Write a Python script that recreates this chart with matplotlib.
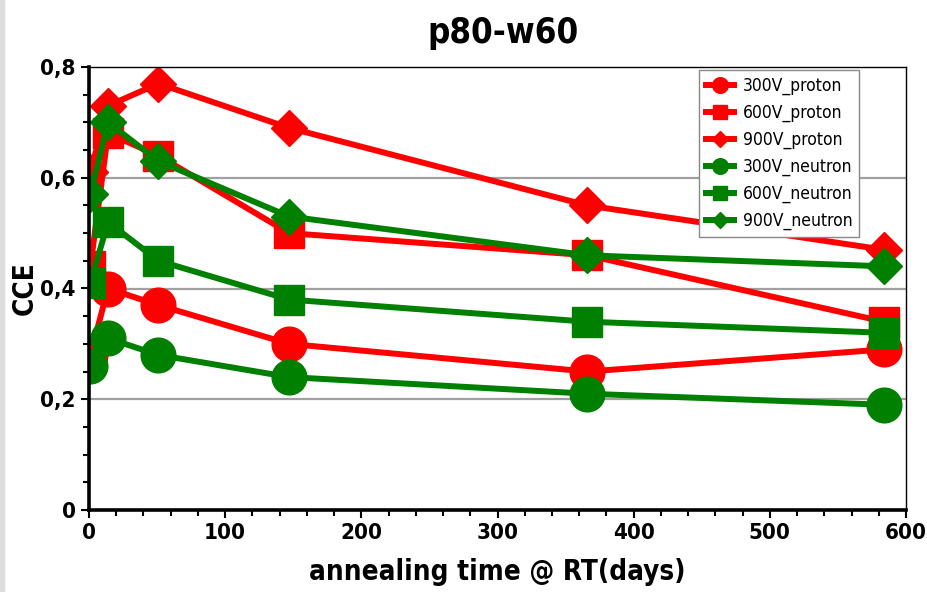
"""CCE vs annealing time for p80-w60, proton vs neutron irradiated."""

import matplotlib

matplotlib.use("Agg")
import matplotlib.pyplot as plt
from matplotlib.patches import Rectangle
from matplotlib.ticker import FuncFormatter, MultipleLocator

plt.rcParams["font.family"] = ["DejaVu Sans"]
plt.rcParams["font.stretch"] = "condensed"

days = [1, 14, 51, 147, 366, 584]

p300 = [0.28, 0.40, 0.37, 0.30, 0.25, 0.29]
p600 = [0.44, 0.68, 0.64, 0.50, 0.46, 0.34]
p900 = [0.61, 0.73, 0.77, 0.69, 0.55, 0.47]
n300 = [0.26, 0.31, 0.28, 0.24, 0.21, 0.19]
n600 = [0.41, 0.52, 0.45, 0.38, 0.34, 0.32]
n900 = [0.57, 0.70, 0.63, 0.53, 0.46, 0.44]

series = [
    ("300V_proton", p300, "red", "o"),
    ("600V_proton", p600, "red", "s"),
    ("900V_proton", p900, "red", "D"),
    ("300V_neutron", n300, "green", "o"),
    ("600V_neutron", n600, "green", "s"),
    ("900V_neutron", n900, "green", "D"),
]


def main() -> None:
    fig = plt.figure(figsize=(9.27, 5.92), dpi=100)
    ax = fig.add_axes([89 / 927, 1 - 510 / 592, (906 - 89) / 927, (510 - 67) / 592])

    sizes = {"o": 25, "s": 22, "D": 18}
    for name, vals, color, mk in series:
        ax.plot(days, vals, color=color, lw=4.3, marker=mk, ms=sizes[mk],
                mec=color, mfc=color, label=name)

    ax.set_xlim(0, 600)
    ax.set_ylim(0, 0.8)
    ax.xaxis.set_major_locator(MultipleLocator(100))
    ax.xaxis.set_minor_locator(MultipleLocator(20))
    ax.yaxis.set_major_locator(MultipleLocator(0.2))
    ax.yaxis.set_minor_locator(MultipleLocator(0.05))
    ax.yaxis.set_major_formatter(
        FuncFormatter(lambda v, _: "0" if abs(v) < 1e-9 else f"{v:.1f}".replace(".", ",")))

    for g in (0.2, 0.4, 0.6):
        ax.axhline(g, color="#a0a0a0", lw=1.6, zorder=0)

    for side in ("left", "bottom"):
        ax.spines[side].set_linewidth(2.6)
    for side in ("top", "right"):
        ax.spines[side].set_linewidth(1.0)
    ax.tick_params(which="both", direction="out", width=1.5, labelsize=16)
    ax.tick_params(which="major", length=6)
    ax.tick_params(which="minor", length=4)
    ax.tick_params(top=False, right=False, which="both")
    for lab in ax.get_xticklabels() + ax.get_yticklabels():
        lab.set_fontweight("bold")

    ax.set_xlabel("annealing time @ RT(days)", fontsize=20, fontweight="bold", labelpad=11)
    ax.set_ylabel("CCE", fontsize=20, fontweight="bold", labelpad=1)
    fig.text(0.543, 0.945, "p80-w60", ha="center", va="center", fontsize=25, fontweight="bold")

    leg = ax.legend(loc="upper right", bbox_to_anchor=(0.943, 0.993), borderaxespad=0,
                    fontsize=12.5, markerscale=0.45, handlelength=1.6, handletextpad=0.5,
                    labelspacing=0.5, borderpad=0.4, fancybox=False, framealpha=1)
    leg.get_frame().set_edgecolor("#888888")
    leg.get_frame().set_linewidth(1.0)

    fig.patches.append(Rectangle((0, 0), 4 / 927, 1, transform=fig.transFigure,
                                 color="#dddddd", zorder=0))

    fig.savefig("out.png", dpi=100)


if __name__ == "__main__":
    main()
